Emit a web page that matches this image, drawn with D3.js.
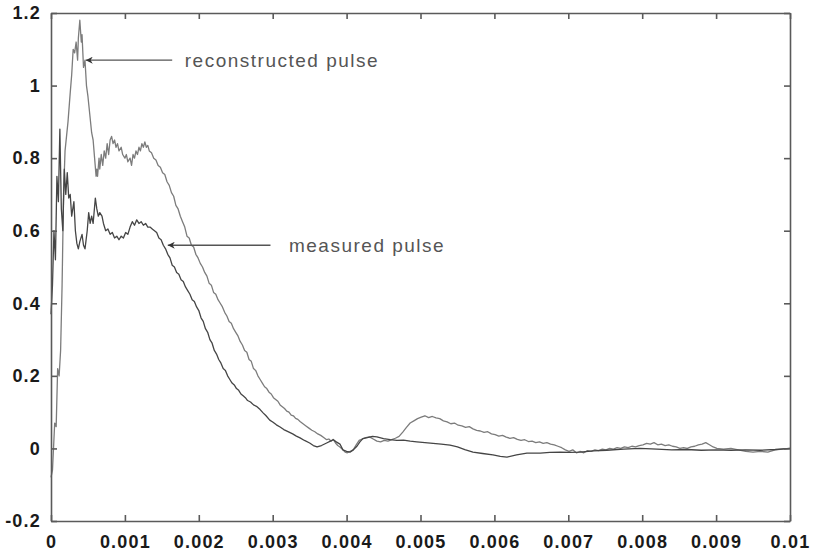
<!DOCTYPE html>
<html>
<head>
<meta charset="utf-8">
<script src="https://cdn.jsdelivr.net/npm/d3@7"></script>
<style>
  html, body { margin: 0; padding: 0; background: #fff; }
  svg { display: block; }
</style>
</head>
<body>
<svg id="chart" width="818" height="551"></svg>
<script>
// time in milliseconds (axis labelled in seconds)
const xTickValues = [0, 1, 2, 3, 4, 5, 6, 7, 8, 9, 10];
const xTickLabels = ["0", "0.001", "0.002", "0.003", "0.004", "0.005", "0.006", "0.007", "0.008", "0.009", "0.01"];
const yTickValues = [-0.2, 0, 0.2, 0.4, 0.6, 0.8, 1, 1.2];
const yTickLabels = ["-0.2", "0", "0.2", "0.4", "0.6", "0.8", "1", "1.2"];

const reconstructedPulse = [
  [0, -0.08], [0.02, -0.06], [0.05, 0.07], [0.07, 0.06], [0.09, 0.22], [0.11, 0.20], [0.13, 0.27],
  [0.15, 0.45], [0.17, 0.70], [0.19, 0.82], [0.21, 0.86], [0.23, 0.90], [0.26, 0.98], [0.28, 1.03],
  [0.30, 1.10], [0.32, 1.09], [0.34, 1.12], [0.36, 1.07], [0.37, 1.13], [0.39, 1.18], [0.41, 1.12],
  [0.42, 1.14], [0.44, 1.05], [0.46, 1.07], [0.48, 1.00], [0.50, 0.97], [0.53, 0.91], [0.55, 0.87],
  [0.57, 0.85], [0.59, 0.80], [0.61, 0.75], [0.62, 0.77], [0.63, 0.75], [0.65, 0.80], [0.66, 0.77],
  [0.68, 0.81], [0.70, 0.78], [0.72, 0.82], [0.74, 0.80], [0.76, 0.84], [0.78, 0.81], [0.80, 0.85],
  [0.82, 0.86], [0.84, 0.84], [0.86, 0.85], [0.88, 0.83], [0.90, 0.84], [0.92, 0.82], [0.95, 0.83],
  [0.97, 0.81], [1.00, 0.80], [1.02, 0.81], [1.04, 0.79], [1.07, 0.80], [1.09, 0.78], [1.11, 0.81],
  [1.13, 0.80], [1.15, 0.82], [1.17, 0.81], [1.19, 0.83], [1.21, 0.82], [1.23, 0.84], [1.25, 0.83],
  [1.27, 0.845], [1.29, 0.83], [1.31, 0.835], [1.33, 0.82], [1.36, 0.815], [1.39, 0.80], [1.42, 0.795],
  [1.45, 0.78], [1.48, 0.775], [1.51, 0.76], [1.54, 0.755], [1.57, 0.735], [1.60, 0.725], [1.63, 0.705],
  [1.66, 0.695], [1.69, 0.67], [1.72, 0.66], [1.75, 0.64], [1.78, 0.625], [1.81, 0.61], [1.84, 0.585],
  [1.87, 0.58], [1.90, 0.56], [1.93, 0.555], [1.96, 0.535], [1.99, 0.525], [2.02, 0.51], [2.05, 0.50],
  [2.08, 0.485], [2.11, 0.475], [2.14, 0.455], [2.17, 0.45], [2.20, 0.43], [2.23, 0.425], [2.26, 0.41],
  [2.29, 0.40], [2.32, 0.39], [2.35, 0.375], [2.38, 0.365], [2.41, 0.35], [2.44, 0.345], [2.47, 0.33],
  [2.50, 0.32], [2.53, 0.31], [2.56, 0.295], [2.59, 0.285], [2.62, 0.27], [2.65, 0.265], [2.68, 0.245],
  [2.71, 0.24], [2.74, 0.22], [2.77, 0.215], [2.80, 0.20], [2.83, 0.19], [2.86, 0.18], [2.89, 0.17],
  [2.92, 0.165], [2.95, 0.155], [2.98, 0.15], [3.01, 0.14], [3.04, 0.135], [3.07, 0.13], [3.10, 0.12],
  [3.13, 0.115], [3.16, 0.11], [3.19, 0.103], [3.22, 0.10], [3.25, 0.092], [3.28, 0.09], [3.31, 0.083],
  [3.34, 0.08], [3.37, 0.074], [3.41, 0.068], [3.45, 0.062], [3.49, 0.056], [3.53, 0.05], [3.57, 0.046],
  [3.61, 0.04], [3.65, 0.036], [3.69, 0.03], [3.73, 0.024], [3.76, 0.026], [3.79, 0.02], [3.82, 0.025],
  [3.85, 0.015], [3.88, 0.008], [3.91, 0.004], [3.95, -0.004], [3.98, -0.01], [4.01, -0.012], [4.05, -0.008],
  [4.09, -0.004], [4.13, 0.01], [4.17, 0.022], [4.21, 0.026], [4.26, 0.03], [4.31, 0.032], [4.36, 0.026],
  [4.41, 0.02], [4.46, 0.018], [4.51, 0.022], [4.56, 0.02], [4.61, 0.024], [4.66, 0.028], [4.71, 0.033],
  [4.76, 0.045], [4.81, 0.058], [4.86, 0.07], [4.91, 0.076], [4.96, 0.082], [5.01, 0.086], [5.06, 0.09],
  [5.11, 0.085], [5.16, 0.088], [5.21, 0.084], [5.26, 0.082], [5.31, 0.076], [5.36, 0.073], [5.41, 0.068],
  [5.46, 0.07], [5.51, 0.064], [5.56, 0.062], [5.61, 0.058], [5.66, 0.06], [5.71, 0.054], [5.76, 0.05],
  [5.81, 0.048], [5.86, 0.044], [5.91, 0.046], [5.96, 0.04], [6.01, 0.038], [6.06, 0.034], [6.11, 0.036],
  [6.16, 0.031], [6.21, 0.028], [6.26, 0.03], [6.31, 0.025], [6.36, 0.022], [6.41, 0.024], [6.46, 0.019],
  [6.51, 0.02], [6.56, 0.016], [6.61, 0.018], [6.66, 0.014], [6.71, 0.016], [6.76, 0.012], [6.81, 0.01],
  [6.86, 0.006], [6.91, 0.002], [6.96, -0.004], [7.01, -0.008], [7.06, -0.004], [7.11, -0.012], [7.16, -0.008],
  [7.21, -0.012], [7.26, -0.006], [7.31, -0.008], [7.36, -0.004], [7.41, -0.006], [7.46, -0.002], [7.51, -0.004],
  [7.56, 0.0], [7.61, -0.002], [7.66, 0.002], [7.71, 0.0], [7.76, 0.004], [7.81, 0.002], [7.86, 0.006],
  [7.91, 0.004], [7.96, 0.008], [8.01, 0.01], [8.06, 0.014], [8.11, 0.012], [8.16, 0.016], [8.21, 0.01],
  [8.26, 0.012], [8.31, 0.008], [8.36, 0.01], [8.41, 0.006], [8.46, 0.004], [8.51, 0.0], [8.56, 0.002],
  [8.61, 0.0], [8.66, 0.004], [8.71, 0.006], [8.76, 0.01], [8.81, 0.012], [8.86, 0.016], [8.91, 0.01],
  [8.96, 0.004], [9.01, 0.0], [9.1, -0.002], [9.2, 0.0], [9.3, -0.004], [9.4, -0.008], [9.5, -0.01],
  [9.6, -0.008], [9.7, -0.01], [9.8, -0.004], [9.9, -0.002], [10.0, 0.0]
];

const measuredPulse = [
  [0.00, 0.37], [0.02, 0.45], [0.04, 0.60], [0.06, 0.52], [0.08, 0.75], [0.10, 0.68], [0.12, 0.88],
  [0.14, 0.66], [0.16, 0.60], [0.18, 0.77], [0.20, 0.70], [0.22, 0.76], [0.24, 0.69], [0.26, 0.70],
  [0.28, 0.64], [0.31, 0.68], [0.33, 0.60], [0.35, 0.565], [0.37, 0.55], [0.39, 0.57], [0.42, 0.59],
  [0.44, 0.56], [0.46, 0.55], [0.49, 0.60], [0.51, 0.65], [0.53, 0.62], [0.55, 0.64], [0.57, 0.62],
  [0.60, 0.69], [0.62, 0.66], [0.64, 0.64], [0.66, 0.65], [0.69, 0.64], [0.71, 0.62], [0.74, 0.60],
  [0.77, 0.605], [0.80, 0.59], [0.83, 0.595], [0.86, 0.58], [0.89, 0.585], [0.92, 0.575], [0.95, 0.585],
  [0.98, 0.58], [1.01, 0.595], [1.04, 0.59], [1.07, 0.61], [1.10, 0.625], [1.13, 0.615], [1.16, 0.63],
  [1.19, 0.62], [1.22, 0.625], [1.25, 0.615], [1.28, 0.62], [1.31, 0.61], [1.34, 0.61], [1.37, 0.605],
  [1.40, 0.60], [1.43, 0.595], [1.46, 0.58], [1.49, 0.575], [1.52, 0.56], [1.55, 0.55], [1.58, 0.535],
  [1.61, 0.525], [1.64, 0.505], [1.67, 0.50], [1.70, 0.485], [1.73, 0.48], [1.76, 0.465], [1.79, 0.46],
  [1.82, 0.445], [1.85, 0.435], [1.88, 0.425], [1.91, 0.41], [1.94, 0.405], [1.97, 0.39], [2.00, 0.38],
  [2.03, 0.36], [2.06, 0.35], [2.09, 0.33], [2.12, 0.32], [2.15, 0.30], [2.18, 0.29], [2.21, 0.27],
  [2.24, 0.26], [2.27, 0.245], [2.30, 0.235], [2.33, 0.22], [2.36, 0.215], [2.39, 0.20], [2.42, 0.19],
  [2.45, 0.18], [2.48, 0.175], [2.51, 0.165], [2.54, 0.16], [2.57, 0.15], [2.60, 0.145], [2.63, 0.14],
  [2.66, 0.132], [2.70, 0.128], [2.74, 0.12], [2.78, 0.116], [2.83, 0.107], [2.87, 0.098], [2.91, 0.09],
  [2.96, 0.078], [3.00, 0.073], [3.05, 0.065], [3.10, 0.059], [3.15, 0.052], [3.20, 0.047], [3.27, 0.04],
  [3.32, 0.034], [3.37, 0.029], [3.43, 0.022], [3.50, 0.015], [3.55, 0.008], [3.60, 0.004], [3.66, 0.008],
  [3.73, 0.015], [3.78, 0.02], [3.82, 0.024], [3.86, 0.018], [3.91, 0.012], [3.95, -0.004], [4.00, -0.008],
  [4.05, -0.01], [4.09, -0.004], [4.14, 0.006], [4.18, 0.018], [4.22, 0.027], [4.28, 0.03], [4.35, 0.033],
  [4.41, 0.032], [4.50, 0.027], [4.59, 0.024], [4.68, 0.022], [4.77, 0.023], [4.86, 0.02], [4.95, 0.018],
  [5.06, 0.016], [5.17, 0.014], [5.28, 0.012], [5.40, 0.009], [5.50, 0.004], [5.60, -0.003], [5.71, -0.01],
  [5.84, -0.014], [5.98, -0.018], [6.08, -0.022], [6.17, -0.024], [6.30, -0.018], [6.44, -0.013], [6.62, -0.013],
  [6.75, -0.011], [6.89, -0.01], [7.02, -0.011], [7.16, -0.01], [7.34, -0.007], [7.52, -0.005], [7.75, -0.002],
  [7.97, 0.0], [8.2, -0.002], [8.4, -0.004], [8.6, -0.003], [8.8, -0.005], [9.0, -0.004], [9.2, -0.005],
  [9.4, -0.004], [9.6, -0.005], [9.8, -0.003], [10.0, 0.0]
];

const annotations = [
  { text: "reconstructed pulse", tipT: 0.47, tipV: 1.07, tailT: 1.64, textT: 1.81 },
  { text: "measured pulse", tipT: 1.58, tipV: 0.56, tailT: 2.97, textT: 3.22 }
];

const svg = d3.select("#chart");
const margin = { left: 51, right: 28, top: 13, bottom: 30 };
const W = 818, H = 551;
const x = d3.scaleLinear().domain([0, 10]).range([margin.left, W - margin.right]);
const y = d3.scaleLinear().domain([-0.2, 1.2]).range([H - margin.bottom, margin.top]);

const axisColor = "#5a5a5a";
const tickLen = 6;

// lines
const line = d3.line().x(d => x(d[0])).y(d => y(d[1]));
svg.append("path").datum(reconstructedPulse)
  .attr("d", line).attr("fill", "none").attr("stroke", "#7c7c7c").attr("stroke-width", 1.3)
  .attr("stroke-linejoin", "round");
svg.append("path").datum(measuredPulse)
  .attr("d", line).attr("fill", "none").attr("stroke", "#454545").attr("stroke-width", 1.3)
  .attr("stroke-linejoin", "round");

// axes (ticks inward on all four sides)
const fmtX = (d, i) => xTickLabels[i];
const fmtY = (d, i) => yTickLabels[i];

const gB = svg.append("g").attr("transform", `translate(0,${y(-0.2)})`)
  .call(d3.axisBottom(x).tickValues(xTickValues).tickFormat(fmtX).tickSizeInner(-tickLen).tickSizeOuter(0).tickPadding(14));
const gT = svg.append("g").attr("transform", `translate(0,${y(1.2)})`)
  .call(d3.axisTop(x).tickValues(xTickValues).tickFormat("").tickSizeInner(-tickLen).tickSizeOuter(0));
const gL = svg.append("g").attr("transform", `translate(${x(0)},0)`)
  .call(d3.axisLeft(y).tickValues(yTickValues).tickFormat(fmtY).tickSizeInner(-tickLen).tickSizeOuter(0).tickPadding(10));
const gR = svg.append("g").attr("transform", `translate(${x(10)},0)`)
  .call(d3.axisRight(y).tickValues(yTickValues).tickFormat("").tickSizeInner(-tickLen).tickSizeOuter(0));

[gB, gT, gL, gR].forEach(g => {
  g.select(".domain").attr("stroke", axisColor).attr("stroke-width", 1.6);
  g.selectAll(".tick line").attr("stroke", axisColor).attr("stroke-width", 1.6);
  g.selectAll(".tick text")
    .attr("fill", "#1a1a1a")
    .style("font-family", "'Liberation Sans', Arial, sans-serif")
    .style("font-weight", "bold")
    .style("font-size", "18px")
    .style("letter-spacing", "1.2px");
});
gB.selectAll(".tick text").attr("dy", "0.71em");

// annotations with arrows
svg.append("defs").append("marker")
  .attr("id", "arrow").attr("viewBox", "0 0 10 10").attr("refX", 10).attr("refY", 5)
  .attr("markerWidth", 10).attr("markerHeight", 7).attr("markerUnits", "userSpaceOnUse")
  .attr("orient", "auto")
  .append("path").attr("d", "M0,0 L10,5 L0,10 L3,5 Z").attr("fill", "#333");

annotations.forEach(a => {
  svg.append("line")
    .attr("x1", x(a.tailT)).attr("y1", y(a.tipV))
    .attr("x2", x(a.tipT)).attr("y2", y(a.tipV))
    .attr("stroke", "#555").attr("stroke-width", 1.3)
    .attr("marker-end", "url(#arrow)");
  svg.append("text")
    .attr("x", x(a.textT)).attr("y", y(a.tipV) + 7)
    .attr("fill", "#555")
    .style("font-family", "'Liberation Sans', Arial, sans-serif")
    .style("font-size", "19px")
    .style("letter-spacing", "1.5px")
    .text(a.text);
});
</script>
</body>
</html>
